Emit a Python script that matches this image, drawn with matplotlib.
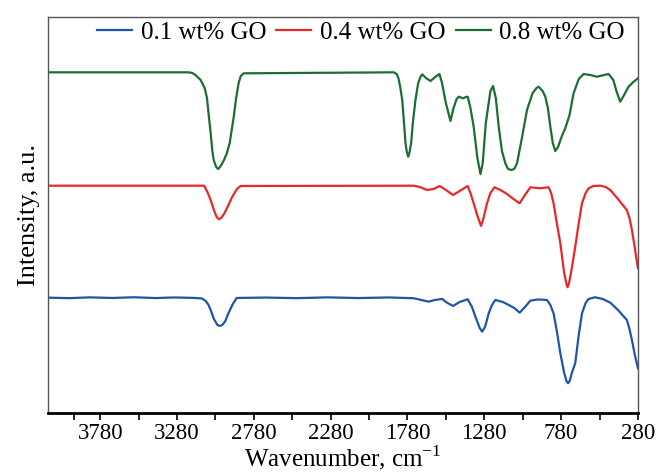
import numpy as np
import matplotlib.pyplot as plt
from matplotlib.ticker import FixedLocator

plt.rcParams['font.family'] = ['Liberation Serif', 'DejaVu Serif']

# 0.8 wt% GO
wn_08 = [4119, 3204, 3180, 3160, 3126, 3100, 3085, 3075, 3061, 3050, 3041, 3025, 3013, 3000,
         2988, 2974, 2955, 2937, 2925, 2911, 2895, 2879, 2865, 2846,
         1869, 1850, 1839, 1827, 1814, 1800, 1793, 1784, 1775, 1766, 1756, 1745, 1728, 1710,
         1695, 1684, 1660, 1630, 1600, 1572, 1555, 1530, 1500, 1480, 1460, 1446, 1418, 1400,
         1388, 1370, 1349, 1325, 1305, 1290, 1270, 1240, 1223, 1205, 1186, 1165, 1143, 1125,
         1104, 1085, 1067, 1035, 1002, 965, 940, 926, 900, 883, 866, 850, 834, 818, 800, 775,
         753, 725, 699, 665, 634, 590, 547, 471, 440, 420, 395, 370, 341, 310, 280]
i_08 = [340.7, 340.7, 340, 338, 333, 325, 315, 300, 280, 262, 253, 246, 244, 246,
        249, 253, 260, 270, 282, 296, 315, 330, 337, 339.7,
        340.7, 339, 335, 326, 313, 285, 270, 261, 256.3, 261, 270, 290, 313, 330,
        336.3, 338.7, 335, 332, 336, 339, 330, 310, 292, 305, 314, 316.3, 314.7, 316,
        316.3, 305, 286.3, 255, 239, 250, 290, 322, 327, 315, 286.3, 262, 249.7, 244,
        243, 244, 249.7, 275, 303, 320, 325, 326.3, 322, 316.3, 305, 286.3, 270, 262, 266, 277,
        284.7, 298, 319.7, 334, 339, 338, 336.3, 339, 333, 322, 311.3, 318, 326.3, 331, 334.7]

# 0.4 wt% GO
wn_04 = [4119, 3104, 3085, 3061, 3040, 3022, 3007, 2992, 2970, 2945, 2920, 2890, 2866,
         1739, 1700, 1652, 1610, 1570, 1530, 1483, 1440, 1388, 1370, 1349, 1320, 1301, 1285,
         1262, 1240, 1214, 1175, 1132, 1090, 1050, 1015, 980, 915, 861, 845, 829, 808, 785,
         760, 745, 738, 728, 710, 688, 665, 644, 620, 601, 570, 525, 490, 460, 410, 352,
         335, 319, 300, 280]
i_04 = [227.3, 227.3, 222, 213, 203, 196, 193.7, 195, 200, 208, 216.3, 224, 227,
        227.3, 226, 223, 224, 227, 223, 218, 222, 227, 220, 209.7, 195, 187, 195,
        209.7, 220, 225.7, 223, 219, 214, 209.7, 218, 225.7, 224.7, 225.7, 220, 209.7, 190, 169.7,
        140, 129, 125.7, 130, 145, 166.3, 190, 209.7, 220, 224.7, 227, 227.3, 226, 223, 214, 203,
        195, 183, 165, 144.7]

# 0.1 wt% GO
wn_01 = [4119, 3980, 3850, 3700, 3560, 3420, 3300, 3180, 3120, 3093, 3075, 3061, 3040,
         3017, 3002, 2985, 2965, 2950, 2920, 2892,
         2700, 2500, 2300, 2100, 1900, 1739, 1690, 1642, 1600, 1554, 1520, 1483, 1440, 1388,
         1360, 1338, 1310, 1294, 1275, 1251, 1230, 1208, 1160, 1121, 1085, 1050, 1015, 980,
         930, 872, 850, 829, 808, 785, 760, 745, 735, 724, 710, 688, 665, 644, 620, 601, 558,
         510, 460, 410, 352, 335, 319, 300, 280]
i_01 = [115.3, 114.8, 115.6, 115.0, 115.7, 114.9, 115.5, 115.1, 114.6, 112, 108, 103, 94,
        88, 87, 88, 92, 98, 108, 115,
        115.4, 114.8, 115.6, 114.9, 115.5, 114.7, 113, 111.3, 113, 114, 110, 107, 111, 113.7,
        106, 96.3, 85, 81.3, 86, 99.7, 108, 113, 111, 108, 105, 100.3, 106, 112.3,
        113.5, 113, 108, 99.7, 82, 59.7, 40, 32, 29.7, 32, 40, 49.7, 78, 99.7, 110, 114, 115.7,
        114, 110.3, 103, 93, 84, 73, 58, 44.7]

labels = ['0.1 wt% GO', '0.4 wt% GO', '0.8 wt% GO']
colors = ['#1f55a8', '#e8282a', '#1a6e35']

fig = plt.figure(figsize=(6.59, 4.73), dpi=100)
ax = fig.add_axes([0.073, 0.127, 0.895, 0.837])

ax.plot(wn_01, i_01, color=colors[0], lw=1.6, label=labels[0], solid_joinstyle='round')
ax.plot(wn_04, i_04, color=colors[1], lw=1.6, label=labels[1], solid_joinstyle='round')
ax.plot(wn_08, i_08, color=colors[2], lw=1.6, label=labels[2], solid_joinstyle='round')

ax.set_xlim(4119, 280)
ax.set_ylim(0, 396)
ax.set_xticks([3780, 3280, 2780, 2280, 1780, 1280, 780, 280])
ax.xaxis.set_minor_locator(FixedLocator([3950, 3530, 3030, 2530, 2030, 1530, 1030, 530]))
ax.set_yticks([])
ax.tick_params(axis='x', which='both', direction='out', length=5, width=1.2,
               labelsize=16.5, pad=2)

for s in ['left', 'right', 'top']:
    ax.spines[s].set_color('#555555')
    ax.spines[s].set_linewidth(1.0)
ax.spines['bottom'].set_linewidth(2.0)
ax.spines['bottom'].set_color('black')

ax.set_xlabel('Wavenumber, cm$^{\\mathregular{-1}}$', fontsize=18, labelpad=0)
ax.set_ylabel('Intensity, a.u.', fontsize=19, labelpad=6)

ax.legend(loc='upper right', ncol=3, frameon=False, fontsize=18,
          handlelength=1.4, columnspacing=0.4, handletextpad=0.35,
          borderaxespad=0.0, bbox_to_anchor=(0.995, 1.015))

plt.savefig('out.png', dpi=100)
